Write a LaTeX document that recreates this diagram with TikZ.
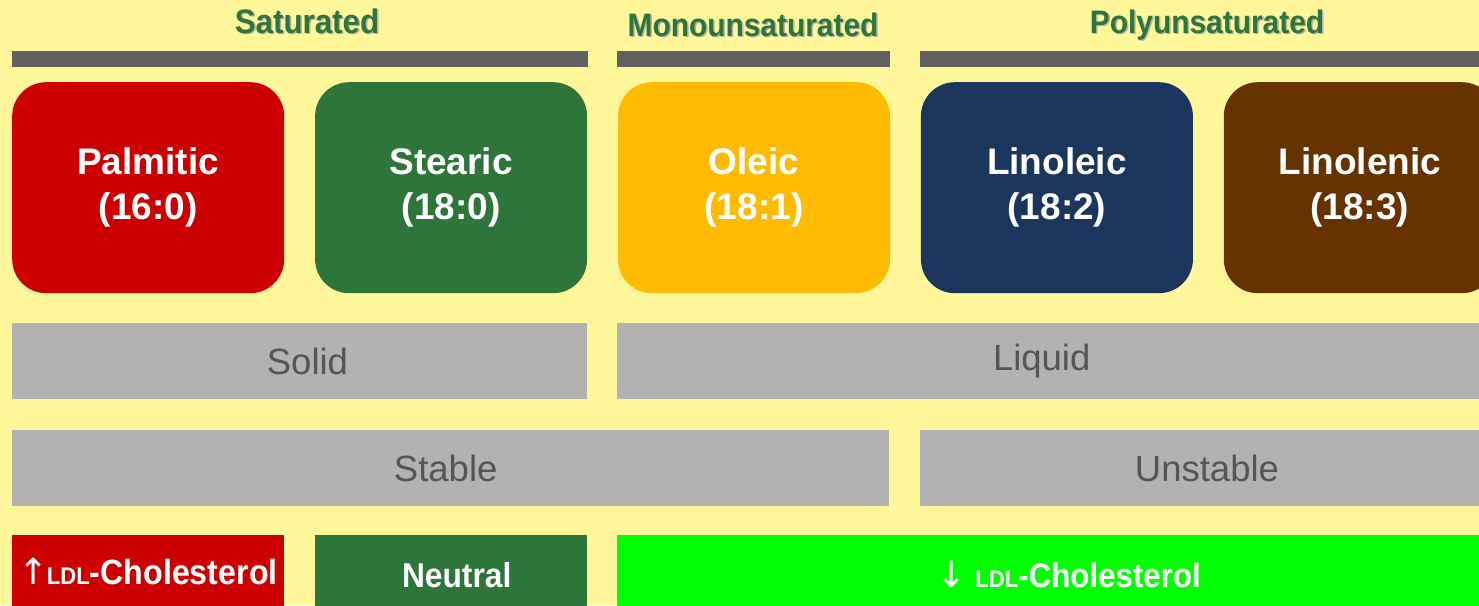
\documentclass[tikz,border=0pt]{standalone}
\usepackage{fontspec}
\setmainfont{Liberation Sans}
\newfontfamily\narrowfont[FakeStretch=0.92]{Liberation Sans}
\newfontfamily\arrowfont{DejaVu Sans}
\usetikzlibrary{positioning}
\definecolor{bgyellow}{HTML}{FFF799}
\definecolor{bargray}{HTML}{606060}
\definecolor{boxgray}{HTML}{B2B2B2}
\definecolor{textgray}{HTML}{555555}
\definecolor{palmred}{HTML}{CC0000}
\definecolor{leafgreen}{HTML}{2E7539}
\definecolor{oleicgold}{HTML}{FFBB00}
\definecolor{linonavy}{HTML}{1A365D}
\definecolor{linobrown}{HTML}{663300}
\definecolor{limegreen}{HTML}{00FF00}
% title text with a soft grey shadow behind it
\newcommand{\shadetitle}[1]{\makebox[0pt][l]{\hspace{1.5pt}\raisebox{-1.5pt}{\color{black!30}#1}}#1}
\newcommand{\smallldl}{{\fontsize{24}{24}\selectfont LDL}}
\newcommand{\ldlarrow}[1]{{\arrowfont\mdseries\fontsize{36}{36}\selectfont #1}}
\tikzset{
acid/.style={
    rectangle,
    rounded corners=34pt,
    inner sep=0pt,
    minimum width=272pt,
    minimum height=211pt,
    align=center,
    text=white,
    font=\fontsize{37}{45}\selectfont\bfseries
},
grouptitle/.style={
    text=leafgreen,
    inner sep=0pt,
    text depth=0pt,
    text height=24pt
},
groupbar/.style={
    fill=bargray,
    inner sep=0pt,
    minimum height=16pt,
    anchor=north west
},
prop/.style={
    fill=boxgray,
    inner sep=0pt,
    minimum height=76pt,
    anchor=north west,
    text=textgray,
    font=\fontsize{36.5}{40}\selectfont
},
effect/.style={
    inner sep=0pt,
    minimum height=76pt,
    text depth=0pt,
    text height=28pt,
    anchor=north west,
    text=white
}}

\begin{document}
\begin{tikzpicture}[x=1pt, y=-1pt]
\useasboundingbox (0,0) rectangle (1479,605);
\clip (0,0) rectangle (1479,605);
\fill[bgyellow] (0,0) rectangle (1479,605);

% group titles and bars
\node[grouptitle, font=\fontsize{34}{34}\narrowfont\bfseries] (sattitle)  at (307,21)  {\shadetitle{Saturated}};
\node[grouptitle, font=\fontsize{32.5}{32.5}\narrowfont\bfseries] (monotitle) at (753,24)  {\shadetitle{Monounsaturated}};
\node[grouptitle, font=\fontsize{32.5}{32.5}\narrowfont\bfseries] (polytitle) at (1207,21) {\shadetitle{Polyunsaturated}};

\node[groupbar, minimum width=576pt] (satbar)  at (12,51)    {};
\node[groupbar, minimum width=273pt] (monobar) at (617,51)   {};
\node[groupbar, minimum width=600pt] (polybar) at (919.5,51) {};

% fatty acids
\node[acid, fill=palmred, anchor=north west] (palm) at (12,82) {Palmitic\\(16:0)};
\node[acid, fill=leafgreen, right=30.5pt of palm]  (stear) {Stearic\\(18:0)};
\node[acid, fill=oleicgold, right=30.5pt of stear] (oleic) {Oleic\\(18:1)};
\node[acid, fill=linonavy, right=30.5pt of oleic]  (linol) {Linoleic\\(18:2)};
\node[acid, fill=linobrown, right=30.5pt of linol] (linolen) {Linolenic\\(18:3)};

% physical state
\node[prop, minimum width=574.5pt] (solid)  at (12,323) {\hspace*{16pt}Solid};
\node[prop, minimum width=877pt]   (liquid) at (617,323) {Liquid\hspace*{28pt}};

% stability
\node[prop, minimum width=877pt]   (stable)   at (12,430)    {Stable\hspace*{10pt}};
\node[prop, minimum width=574.5pt] (unstable) at (919.5,430) {Unstable};

% effect on cholesterol
\node[effect, fill=palmred, minimum width=272pt, text height=22pt, font=\fontsize{35}{35}\narrowfont\bfseries] (ldlup) at (12,535) {\ldlarrow{↑}\kern-2pt\smallldl-Cholesterol};
\node[effect, fill=leafgreen, minimum width=272pt, font=\fontsize{34.5}{34.5}\narrowfont\bfseries] (neutral) at (314.5,535) {\hspace*{12pt}Neutral};
\node[effect, fill=limegreen, minimum width=877pt, font=\fontsize{34}{34}\narrowfont\bfseries] (ldldown) at (617,535) {\hspace*{26pt}\ldlarrow{↓} \smallldl-Cholesterol};
\end{tikzpicture}
\end{document}
